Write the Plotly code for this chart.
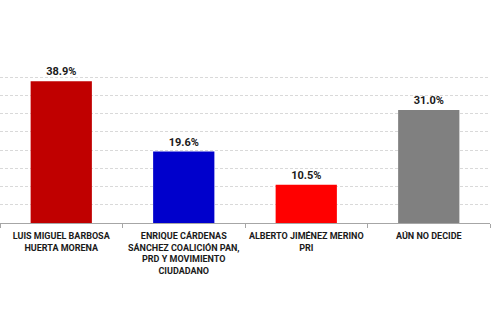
import plotly.graph_objects as go

categories = [
    "LUIS MIGUEL BARBOSA<br>HUERTA MORENA",
    "ENRIQUE CÁRDENAS<br>SÁNCHEZ COALICIÓN PAN,<br>PRD Y MOVIMIENTO<br>CIUDADANO",
    "ALBERTO JIMÉNEZ MERINO<br>PRI",
    "AÚN NO DECIDE",
]
values = [38.9, 19.6, 10.5, 31.0]
labels = ["38.9%", "19.6%", "10.5%", "31.0%"]
colors = ["#C00000", "#0000CC", "#FF0000", "#808080"]

FONT = "Roboto, Liberation Sans, Arial"

fig = go.Figure(go.Bar(
    x=categories, y=values, text=labels, textposition="outside",
    marker=dict(color=colors, line=dict(width=0)),
    width=0.5, cliponaxis=False,
    textfont=dict(family=FONT, size=11, color="#1a1a1a", weight="bold"),
))
fig.update_layout(
    width=500, height=334,
    margin=dict(l=0, r=10, t=59, b=111),
    paper_bgcolor="white", plot_bgcolor="white",
    showlegend=False,
    font=dict(family=FONT, color="#1a1a1a"),
)
fig.update_xaxes(
    showline=True, linecolor="#a6a6a6", linewidth=1,
    ticks="outside", tickson="boundaries", ticklen=4, tickcolor="#a6a6a6",
    tickangle=0, ticklabelstandoff=4,
    tickfont=dict(family=FONT, size=9, weight="bold", color="#1a1a1a"),
    showgrid=False,
)
fig.update_yaxes(
    range=[0, 45], dtick=5, showticklabels=False,
    showgrid=True, gridcolor="#d9d9d9", griddash="3px,2px", gridwidth=1,
    zeroline=False, showline=False,
)
fig.write_html("out.html")
